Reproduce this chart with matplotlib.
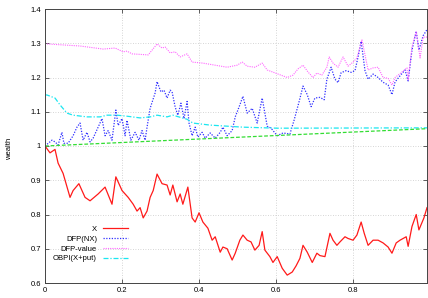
import matplotlib
matplotlib.use('Agg')
import matplotlib.pyplot as plt

plt.rcParams['font.family'] = ['Liberation Sans', 'DejaVu Sans']

# values
t_x = [0.0, 0.013, 0.026, 0.034, 0.047, 0.065, 0.073, 0.088, 0.104, 0.117, 0.138, 0.156,
       0.174, 0.184, 0.2, 0.216, 0.229, 0.239, 0.247, 0.255, 0.265, 0.273, 0.281, 0.291,
       0.304, 0.317, 0.325, 0.332, 0.343, 0.351, 0.358, 0.371, 0.382, 0.39, 0.4, 0.41,
       0.423, 0.434, 0.442, 0.455, 0.462, 0.473, 0.486, 0.494, 0.506, 0.514, 0.525, 0.535,
       0.545, 0.556, 0.564, 0.571, 0.584, 0.592, 0.603, 0.616, 0.629, 0.642, 0.652, 0.662,
       0.670, 0.681, 0.694, 0.706, 0.714, 0.727, 0.740, 0.748, 0.758, 0.766, 0.779, 0.787,
       0.8, 0.81, 0.821, 0.829, 0.839, 0.852, 0.865, 0.878, 0.891, 0.901, 0.912, 0.922,
       0.938, 0.943, 0.953, 0.964, 0.971, 0.984, 0.992]
X = [1.0, 0.98, 0.99, 0.95, 0.92, 0.85, 0.87, 0.89, 0.85, 0.84, 0.86, 0.88,
     0.83, 0.91, 0.87, 0.85, 0.83, 0.81, 0.82, 0.79, 0.81, 0.85, 0.87, 0.918,
     0.89, 0.886, 0.857, 0.886, 0.837, 0.86, 0.83, 0.88, 0.79, 0.778, 0.805, 0.778,
     0.76, 0.725, 0.735, 0.69, 0.705, 0.70, 0.667, 0.687, 0.725, 0.74, 0.725, 0.72,
     0.696, 0.71, 0.75, 0.696, 0.677, 0.66, 0.677, 0.643, 0.623, 0.632, 0.65, 0.672,
     0.71, 0.69, 0.66, 0.687, 0.68, 0.677, 0.745, 0.725, 0.71, 0.72, 0.735, 0.73,
     0.725, 0.74, 0.778, 0.745, 0.71, 0.725, 0.725, 0.717, 0.705, 0.687, 0.717, 0.725,
     0.735, 0.707, 0.765, 0.80, 0.755, 0.79, 0.82]

t_dfp = [0.0, 0.018, 0.026, 0.034, 0.044, 0.049, 0.06, 0.073, 0.083, 0.091, 0.099, 0.109,
         0.117, 0.125, 0.138, 0.148, 0.156, 0.164, 0.174, 0.184, 0.19, 0.2, 0.208, 0.213,
         0.223, 0.234, 0.244, 0.252, 0.26, 0.265, 0.273, 0.286, 0.291, 0.301, 0.309, 0.317,
         0.325, 0.33, 0.338, 0.345, 0.353, 0.361, 0.369, 0.374, 0.382, 0.39, 0.397, 0.408,
         0.416, 0.429, 0.442, 0.455, 0.462, 0.473, 0.486, 0.494, 0.504, 0.514, 0.525, 0.538,
         0.551, 0.564, 0.577, 0.587, 0.603, 0.618, 0.636, 0.647, 0.66, 0.67, 0.681, 0.691,
         0.701, 0.714, 0.725, 0.732, 0.743, 0.753, 0.761, 0.769, 0.782, 0.795, 0.805, 0.813,
         0.821, 0.831, 0.839, 0.852, 0.865, 0.878, 0.891, 0.901, 0.909, 0.922, 0.935, 0.943,
         0.953, 0.964, 0.971, 0.982, 0.992]
dfp_nx = [1.0, 1.017, 1.012, 1.003, 1.04, 1.008, 1.008, 1.03, 1.055, 1.067, 1.017, 1.04,
          1.012, 1.023, 1.055, 1.08, 1.03, 1.045, 1.017, 1.105, 1.06, 1.08, 1.03, 1.075,
          1.017, 1.04, 1.017, 1.045, 1.017, 1.055, 1.11, 1.155, 1.188, 1.158, 1.163, 1.14,
          1.163, 1.158, 1.114, 1.09, 1.125, 1.08, 1.13, 1.067, 1.03, 1.055, 1.026, 1.04,
          1.023, 1.038, 1.023, 1.04, 1.055, 1.03, 1.045, 1.085, 1.114, 1.145, 1.096, 1.11,
          1.067, 1.14, 1.058, 1.052, 1.03, 1.038, 1.035, 1.076, 1.13, 1.175, 1.15, 1.115,
          1.14, 1.142, 1.135, 1.195, 1.23, 1.195, 1.185, 1.214, 1.22, 1.215, 1.22, 1.26,
          1.305, 1.22, 1.195, 1.21, 1.2, 1.186, 1.178, 1.15, 1.187, 1.205, 1.222, 1.19,
          1.28, 1.335, 1.28, 1.322, 1.34]

t_val = [0.0, 0.005, 0.091, 0.151, 0.182, 0.203, 0.213, 0.226, 0.268, 0.291, 0.304, 0.312,
         0.325, 0.338, 0.351, 0.369, 0.382, 0.41, 0.473, 0.499, 0.512, 0.525, 0.545, 0.564,
         0.577, 0.629, 0.644, 0.657, 0.670, 0.683, 0.696, 0.706, 0.719, 0.732, 0.738, 0.748,
         0.761, 0.774, 0.787, 0.8, 0.81, 0.823, 0.831, 0.839, 0.852, 0.865, 0.878, 0.891,
         0.901, 0.909, 0.927, 0.94, 0.943, 0.953, 0.964, 0.974, 0.982, 0.992]
dfp_value = [1.30, 1.298, 1.292, 1.283, 1.286, 1.275, 1.277, 1.269, 1.266, 1.298, 1.286, 1.289,
             1.272, 1.275, 1.26, 1.269, 1.245, 1.242, 1.23, 1.236, 1.245, 1.233, 1.23, 1.242,
             1.222, 1.2, 1.207, 1.225, 1.236, 1.216, 1.2, 1.213, 1.207, 1.23, 1.26, 1.242,
             1.23, 1.26, 1.233, 1.245, 1.257, 1.31, 1.266, 1.222, 1.228, 1.23, 1.2, 1.198,
             1.178, 1.2, 1.216, 1.228, 1.193, 1.29, 1.333, 1.257, 1.318, 1.318]

t_obpi = [0.0, 0.005, 0.026, 0.039, 0.057, 0.073, 0.109, 0.143, 0.161, 0.187, 0.213, 0.247,
          0.273, 0.291, 0.317, 0.332, 0.369, 0.384, 0.429, 0.514, 0.603, 0.992]
obpi = [1.149, 1.149, 1.14, 1.12, 1.096, 1.09, 1.085, 1.085, 1.09, 1.09, 1.087, 1.082,
        1.085, 1.09, 1.085, 1.09, 1.078, 1.067, 1.061, 1.055, 1.052, 1.053]

t_floor = [0.0, 0.992]
floor = [1.0, 1.0505]

xticks = [0, 0.2, 0.4, 0.6, 0.8]
xticklabels = ['0', '0.2', '0.4', '0.6', '0.8']
yticks = [0.6, 0.7, 0.8, 0.9, 1.0, 1.1, 1.2, 1.3, 1.4]
yticklabels = ['0.6', '0.7', '0.8', '0.9', '1', '1.1', '1.2', '1.3', '1.4']

fig = plt.figure(figsize=(4.28, 2.98), dpi=100, facecolor='white')
ax = fig.add_axes([45/428, 15/298, 382/428, 274/298])

ax.plot(t_x, X, color='#ff1a1a', lw=0.9, label='X')
ax.plot(t_dfp, dfp_nx, color='#3030ff', lw=0.9, ls=(0, (1, 1.2)), label='DFP(NX)')
ax.plot(t_val, dfp_value, color='#ff66ff', lw=0.8, ls=(0, (1, 1)), label='DFP-value')
ax.plot(t_obpi, obpi, color='#1ae6f0', lw=0.9, ls=(0, (4, 1.5, 1, 1.5)), label='OBPI(X+put)')
ax.plot(t_floor, floor, color='#33dd33', lw=0.9, ls=(0, (3, 1.5)))

ax.set_xlim(0, 0.992)
ax.set_ylim(0.6, 1.4)
ax.set_xticks(xticks)
ax.set_xticklabels(xticklabels)
ax.set_yticks(yticks)
ax.set_yticklabels(yticklabels)
ax.tick_params(direction='in', length=3, width=0.6, labelsize=5.5, pad=3,
               top=True, right=True, color='#444444')
ax.grid(True, color='#c8c8c8', ls=(0, (1, 2)), lw=0.6)
for s in ax.spines.values():
    s.set_color('#444444')
    s.set_linewidth(0.7)

fig.text(10/428, 0.5, 'wealth', rotation=90, ha='center', va='center', fontsize=5.5)

ax.legend(loc='lower right', bbox_to_anchor=(0.218, 0.075), frameon=False,
          markerfirst=False, fontsize=5.5, handlelength=3.3, handletextpad=0.8,
          labelspacing=0.32, borderpad=0, borderaxespad=0)

plt.savefig('out.png', dpi=100)
